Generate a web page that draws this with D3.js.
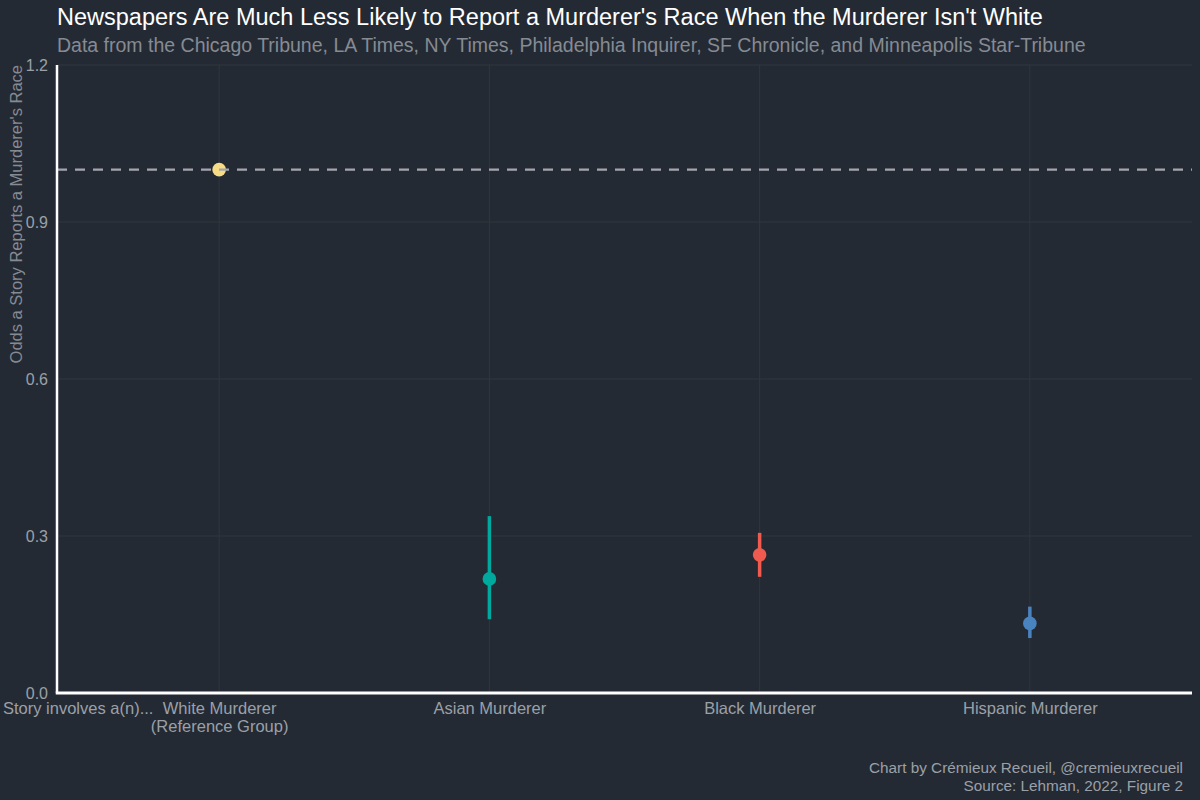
<!DOCTYPE html>
<html>
<head>
<meta charset="utf-8">
<script src="https://cdn.jsdelivr.net/npm/d3@7"></script>
<style>
  body { margin: 0; background: #242a33; }
  svg { display: block; }
</style>
</head>
<body>
<div id="wrapper"></div>
<script>
const groups = ["White Murderer\n(Reference Group)", "Asian Murderer", "Black Murderer", "Hispanic Murderer"]
const odds = [1.0, 0.218, 0.264, 0.133]
const ciLow = [null, 0.141, 0.222, 0.105]
const ciHigh = [null, 0.338, 0.306, 0.165]
const colors = ["#f7dc85", "#00a99d", "#f05a4f", "#4a84c0"]
const yTicks = [0.0, 0.3, 0.6, 0.9, 1.2]
const refLine = 1.0

const dataset = groups.map((g, i) => ({
  group: g, odds: odds[i], low: ciLow[i], high: ciHigh[i], color: colors[i]
}))

// 2. Dimensions
let dimensions = {
  width: 1200,
  height: 800,
  margin: { top: 65, right: 8, bottom: 107, left: 57 },
}
dimensions.boundedWidth = dimensions.width - dimensions.margin.left - dimensions.margin.right
dimensions.boundedHeight = dimensions.height - dimensions.margin.top - dimensions.margin.bottom

const textColor = "#9ba0a8"
const font = "'Liberation Sans', Arial, sans-serif"

// 3. Canvas
const wrapper = d3.select("#wrapper")
  .append("svg")
    .attr("width", dimensions.width)
    .attr("height", dimensions.height)
    .style("font-family", font)

wrapper.append("rect")
    .attr("width", dimensions.width)
    .attr("height", dimensions.height)
    .attr("fill", "#242a33")

const bounds = wrapper.append("g")
    .attr("transform", `translate(${dimensions.margin.left},${dimensions.margin.top})`)

// 4. Scales
const xScale = d3.scalePoint()
  .domain(groups)
  .range([0, dimensions.boundedWidth])
  .padding(0.6)

const yScale = d3.scaleLinear()
  .domain([0, 1.2])
  .range([dimensions.boundedHeight, 0])

// 5. Gridlines
const grid = bounds.append("g")
grid.selectAll(".hgrid")
  .data(yTicks)
  .enter().append("line")
    .attr("x1", 0)
    .attr("x2", dimensions.boundedWidth)
    .attr("y1", d => yScale(d))
    .attr("y2", d => yScale(d))
    .attr("stroke", "#30363f")
    .attr("stroke-width", 1)
grid.selectAll(".vgrid")
  .data(groups)
  .enter().append("line")
    .attr("x1", d => xScale(d))
    .attr("x2", d => xScale(d))
    .attr("y1", 0)
    .attr("y2", dimensions.boundedHeight)
    .attr("stroke", "#30363f")
    .attr("stroke-width", 1)

// 6. Draw data
bounds.selectAll(".ci")
  .data(dataset.filter(d => d.low != null))
  .enter().append("line")
    .attr("x1", d => xScale(d.group))
    .attr("x2", d => xScale(d.group))
    .attr("y1", d => yScale(d.low))
    .attr("y2", d => yScale(d.high))
    .attr("stroke", d => d.color)
    .attr("stroke-width", 3.5)

bounds.selectAll(".pt")
  .data(dataset)
  .enter().append("circle")
    .attr("cx", d => xScale(d.group))
    .attr("cy", d => yScale(d.odds))
    .attr("r", 6.8)
    .attr("fill", d => d.color)

// reference line on top of points
bounds.append("line")
    .attr("x1", 0)
    .attr("x2", dimensions.boundedWidth)
    .attr("y1", yScale(refLine))
    .attr("y2", yScale(refLine))
    .attr("stroke", "#a5a6ad")
    .attr("stroke-width", 2.2)
    .attr("stroke-dasharray", "10 8")

// 7. Peripherals
const yAxis = bounds.append("g")
  .call(d3.axisLeft(yScale).tickValues(yTicks).tickFormat(d3.format(".1f")).tickSize(0).tickPadding(9))
yAxis.select(".domain").remove()
yAxis.selectAll("text")
    .attr("fill", textColor)
    .style("font-size", "16px")
    .style("font-family", font)

const xAxis = bounds.append("g")
    .attr("transform", `translate(0,${dimensions.boundedHeight})`)
  .call(d3.axisBottom(xScale).tickSize(0).tickPadding(0).tickFormat(""))
xAxis.select(".domain").remove()
xAxis.selectAll(".tick text").remove()
xAxis.selectAll(".tick").each(function(d) {
  const lines = d.split("\n")
  const t = d3.select(this).append("text")
      .attr("fill", textColor)
      .attr("text-anchor", "middle")
      .style("font-size", "16.5px")
      .style("font-family", font)
  lines.forEach((l, i) => {
    t.append("tspan").attr("x", 0).attr("y", 21 + i * 18).text(l)
  })
})

// axis lines
bounds.append("line")
    .attr("x1", 0).attr("x2", 0)
    .attr("y1", 0).attr("y2", dimensions.boundedHeight)
    .attr("stroke", "white").attr("stroke-width", 2.5)
bounds.append("line")
    .attr("x1", -1.25).attr("x2", dimensions.boundedWidth)
    .attr("y1", dimensions.boundedHeight).attr("y2", dimensions.boundedHeight)
    .attr("stroke", "white").attr("stroke-width", 3)

// x axis title at left
wrapper.append("text")
    .attr("x", 3)
    .attr("y", dimensions.margin.top + dimensions.boundedHeight + 21)
    .attr("fill", textColor)
    .style("font-size", "16.5px")
    .text("Story involves a(n)...")

// y axis title
wrapper.append("text")
    .attr("transform", `translate(22,${dimensions.margin.top}) rotate(-90)`)
    .attr("text-anchor", "end")
    .attr("fill", "#868b93")
    .style("font-size", "16.5px")
    .text("Odds a Story Reports a Murderer's Race")

// titles
wrapper.append("text")
    .attr("x", 57)
    .attr("y", 25)
    .attr("fill", "white")
    .style("font-size", "23.5px")
    .text("Newspapers Are Much Less Likely to Report a Murderer's Race When the Murderer Isn't White")

wrapper.append("text")
    .attr("x", 57)
    .attr("y", 52)
    .attr("fill", "#868b93")
    .style("font-size", "19.5px")
    .text("Data from the Chicago Tribune, LA Times, NY Times, Philadelphia Inquirer, SF Chronicle, and Minneapolis Star-Tribune")

// caption
const caption = wrapper.append("text")
    .attr("text-anchor", "end")
    .attr("fill", textColor)
    .style("font-size", "15.3px")
caption.append("tspan").attr("x", 1183).attr("y", 773).text("Chart by Crémieux Recueil, @cremieuxrecueil")
caption.append("tspan").attr("x", 1183).attr("y", 791).text("Source: Lehman, 2022, Figure 2")
</script>
</body>
</html>
